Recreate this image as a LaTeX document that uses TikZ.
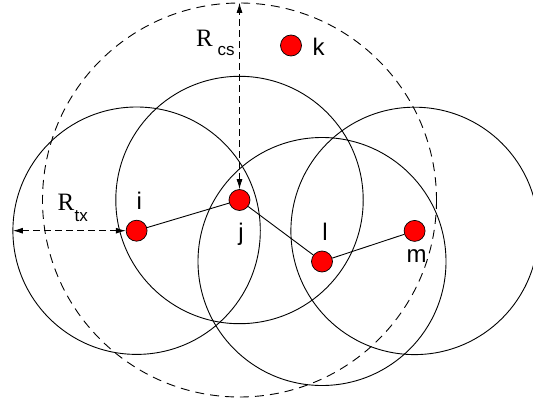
\documentclass[tikz,border=0pt]{standalone}
\usepackage{fontspec}
\setmainfont{Liberation Sans}
\newfontfamily\serifR{Liberation Serif}
\usetikzlibrary{arrows.meta}
\tikzset{
  stationdot/.style={circle, draw=black, fill=red, line width=0.7pt, minimum size=21pt, inner sep=0pt},
  txcircle/.style={draw=black, line width=0.9pt},
  cscircle/.style={draw=black, line width=0.9pt, dash pattern=on 9pt off 6pt},
  linkline/.style={draw=black, line width=0.9pt},
  dimarrow/.style={draw=black, line width=0.9pt, dash pattern=on 7pt off 4pt, {Latex[length=10pt,width=6pt]}-{Latex[length=10pt,width=6pt]}},
  lbltext/.style={font=\fontsize{24}{24}\selectfont, inner sep=0pt, anchor=base},
  bigRtext/.style={font=\serifR\fontsize{25}{25}\selectfont, inner sep=0pt, anchor=base west},
  substext/.style={font=\fontsize{17}{17}\selectfont, inner sep=0pt, anchor=base west}
}
\begin{document}
\begin{tikzpicture}[x=1pt,y=-1pt]
\clip (0,0) rectangle (533,404);
\fill[white] (0,0) rectangle (533,404);
% stations
\node[stationdot] (i) at (136.6,230.7) {};
\node[stationdot] (j) at (239.5,200) {};
\node[stationdot] (l) at (322,261.5) {};
\node[stationdot] (m) at (414.6,230.9) {};
\node[stationdot] (k) at (291,45.5) {};
% transmission ranges
\draw[txcircle] (i) circle[radius=123.7];
\draw[txcircle] (j) circle[radius=123.7];
\draw[txcircle] (l) circle[radius=124];
\draw[txcircle] (m) circle[radius=123.7];
% carrier sense range
\draw[cscircle] (j) circle[radius=197];
% links
\draw[linkline] (i) -- (j);
\draw[linkline] (j) -- (l);
\draw[linkline] (l) -- (m);
% dimension arrows
\coordinate (cstop) at (239.5,2.8);
\coordinate (txleft) at (12.9,230.7);
\draw[dimarrow] (j) -- (cstop);
\draw[dimarrow] (txleft) -- (i);
% labels
\node[lbltext] (ti) at (139.3,209.3) {i};
\node[lbltext] (tj) at (241,240) {j};
\node[lbltext] (tl) at (325,240) {l};
\node[lbltext] (tm) at (416.7,262) {m};
\node[lbltext, anchor=base west] (tk) at (312.5,55.5) {k};
\node[bigRtext] (Rcs) at (196,46.5) {R};
\node[substext] (cs) at (217.5,56) {cs};
\node[bigRtext] (Rtx) at (57.5,210) {R};
\node[substext] (tx) at (74.5,221) {tx};
\end{tikzpicture}
\end{document}
